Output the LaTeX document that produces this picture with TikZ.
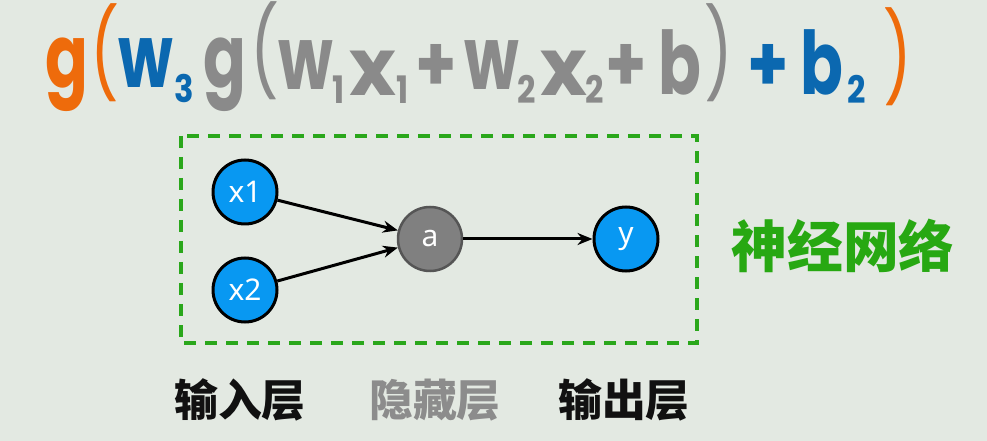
\documentclass[tikz,border=0pt]{standalone}
\usepackage{fontspec}
\setmainfont{Poppins}
\newfontfamily\fxmain{Poppins}[FakeStretch=0.72]
\newfontfamily\fxplus{Poppins}[FakeStretch=0.85]
\newfontfamily\cjk{Noto Sans CJK SC}
\newfontfamily\lbl{Noto Sans}
\usetikzlibrary{arrows.meta}
\definecolor{bg}{HTML}{E3E9E2}
\definecolor{forange}{HTML}{EE6B0B}
\definecolor{fblue}{HTML}{0B68B0}
\definecolor{fgray}{HTML}{8A8A8A}
\definecolor{nblue}{HTML}{0898F2}
\definecolor{ngray}{HTML}{808080}
\definecolor{ngrayd}{HTML}{555555}
\definecolor{boxgreen}{HTML}{2AA71B}
\definecolor{txtgreen}{HTML}{27A812}
\definecolor{lblgray}{HTML}{8C8C8C}
\definecolor{lblblack}{HTML}{111111}
\begin{document}
\begin{tikzpicture}[x=1bp,y=-1bp,
  fx/.style={anchor=base, inner sep=0pt, font=\fxmain\fontsize{88}{88}\selectfont\bfseries},
  fxx/.style={anchor=base, inner sep=0pt, font=\fontsize{80}{80}\selectfont\bfseries},
  fpl/.style={anchor=base, inner sep=0pt, font=\fxplus\fontsize{78}{78}\selectfont\bfseries},
  fpar/.style={anchor=base, inner sep=0pt, font=\fxmain\fontsize{88}{88}\selectfont},
  fs/.style={anchor=base, inner sep=0pt, font=\fxplus\fontsize{38}{38}\selectfont\bfseries},
  neuron/.style={circle, minimum size=64bp, inner sep=0pt, line width=3bp, text=white, font=\lbl\fontsize{30}{30}\selectfont},
  inp/.style={neuron, fill=nblue, draw=black},
  hid/.style={neuron, fill=ngray, draw=ngrayd, line width=2.5bp},
  conn/.style={-{Stealth[length=15bp,width=12bp]}, line width=3bp, draw=black},
  layer/.style={font=\cjk\bfseries\fontsize{44}{44}\selectfont},
  netbox/.style={draw=boxgreen, line width=4.5bp, dash pattern=on 12bp off 9bp}
]
\fill[bg] (0,0) rectangle (987,441);
\useasboundingbox (0,0) rectangle (987,441);

% formula
\node[fx, text=forange] (f1) at (67,88) {g};
\node[fpar, text=forange] (f2) at (105,86) {(};
\node[fx, text=fblue] (f3) at (146,88) {w};
\node[fs, text=fblue] (f4) at (184,103) {3};
\node[fx, text=fgray] (f5) at (225,88) {g};
\node[fpar, text=fgray] (f6) at (265,84) {(};
\node[fx, text=fgray] (f7) at (306,90) {w};
\node[fs, text=fgray] (f8) at (339,104) {1};
\node[fxx, text=fgray] (f9) at (373,96) {x};
\node[fs, text=fgray] (f10) at (403,104) {1};
\node[fpl, text=fgray] (f11) at (436,92) {+};
\node[fx, text=fgray] (f12) at (492,90) {w};
\node[fs, text=fgray] (f13) at (527,104) {2};
\node[fxx, text=fgray] (f14) at (564,96) {x};
\node[fs, text=fgray] (f15) at (595,104) {2};
\node[fpl, text=fgray] (f16) at (626,92) {+};
\node[fx, text=fgray] (f17) at (680,95) {b};
\node[fpar, text=fgray] (f18) at (719,86) {)};
\node[fpl, text=fblue] (f19) at (768,92) {+};
\node[fx, text=fblue] (f20) at (822,95) {b};
\node[fs, text=fblue] (f21) at (857,104) {2};
\node[fpar, text=forange] (f22) at (898,90) {)};

% dashed box
\draw[netbox] (181,136) rectangle (697,343);

% neurons
\node[inp] (x1) at (245,192) {x1};
\node[inp] (x2) at (245,290) {x2};
\node[hid] (a) at (430,239) {a};
\node[inp] (y) at (626,239) {y};

\draw[conn] (x1) -- (a.165);
\draw[conn] (x2) -- (a.195);
\draw[conn] (a) -- (y);

% labels
\node[layer, text=lblblack] (l1) at (240,400) {输入层};
\node[layer, text=lblgray] (l2) at (435,400) {隐藏层};
\node[layer, text=lblblack] (l3) at (624,400) {输出层};
\node[font=\cjk\bfseries\fontsize{56}{56}\selectfont, text=txtgreen] (nn) at (843,246) {神经网络};
\end{tikzpicture}
\end{document}
